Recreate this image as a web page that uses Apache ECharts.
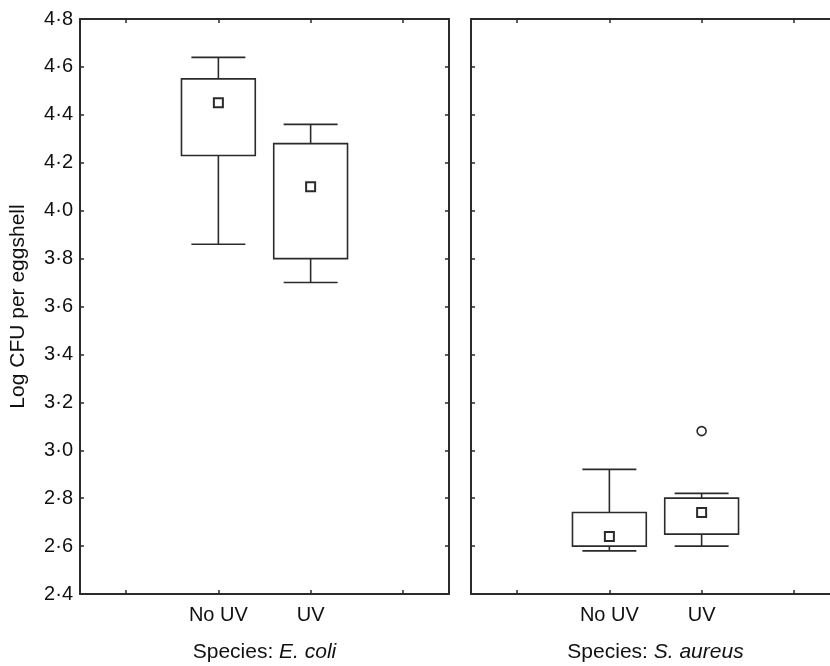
<!DOCTYPE html>
<html>
<head>
<meta charset="utf-8">
<title>Log CFU per eggshell</title>
<script src="https://cdn.jsdelivr.net/npm/echarts@6/dist/echarts.min.js"></script>
<style>
  html, body { margin: 0; padding: 0; background: #fff; }
  #chart { width: 830px; height: 666px; }
</style>
</head>
<body>
<div id="chart"></div>
<script>
// categories (empty slots keep the outer ticks of each panel)
const categories = ['', 'No UV', 'UV', ''];
const groupIndex = [1, 2];

// E. coli
const ecoliWhiskerLow = [3.86, 3.70];
const ecoliBoxLow = [4.23, 3.80];
const ecoliBoxHigh = [4.55, 4.28];
const ecoliWhiskerHigh = [4.64, 4.36];
const ecoliCenter = [4.45, 4.10];

// S. aureus
const aureusWhiskerLow = [2.58, 2.60];
const aureusBoxLow = [2.60, 2.65];
const aureusBoxHigh = [2.74, 2.80];
const aureusWhiskerHigh = [2.92, 2.82];
const aureusCenter = [2.64, 2.74];
const aureusOutlier = [null, 3.08];

const yTicks = { min: 2.4, max: 4.8, step: 0.2 };

const ink = '#2b2b2b';
const font = 'Liberation Sans, Arial, sans-serif';
const fs = 20;
const nameFs = 21;

function boxData(low, q1, q3, high) {
  return groupIndex.map((x, i) => [x, low[i], q1[i], q3[i], high[i]]);
}

function pointData(vals) {
  return groupIndex.map((x, i) => [x, vals[i]]).filter(d => d[1] != null);
}

function renderBox(params, api) {
  const x = api.value(0);
  const lo = api.coord([x, api.value(1)]);
  const q1 = api.coord([x, api.value(2)]);
  const q3 = api.coord([x, api.value(3)]);
  const hi = api.coord([x, api.value(4)]);
  const band = api.size([1, 0])[0];
  const boxW = band * 0.8;
  const capW = band * 0.585;
  const cx = lo[0];
  const style = { stroke: ink, lineWidth: 1.6, fill: null };
  return {
    type: 'group',
    children: [
      { type: 'line', shape: { x1: cx, y1: hi[1], x2: cx, y2: q3[1] }, style },
      { type: 'line', shape: { x1: cx, y1: q1[1], x2: cx, y2: lo[1] }, style },
      { type: 'line', shape: { x1: cx - capW / 2, y1: hi[1], x2: cx + capW / 2, y2: hi[1] }, style },
      { type: 'line', shape: { x1: cx - capW / 2, y1: lo[1], x2: cx + capW / 2, y2: lo[1] }, style },
      { type: 'rect', shape: { x: cx - boxW / 2, y: q3[1], width: boxW, height: q1[1] - q3[1] },
        style: { stroke: ink, lineWidth: 1.6, fill: '#fff' } }
    ]
  };
}

// ticks point into the plot on every side
const tickStyle = { show: true, inside: true, length: 4, lineStyle: { color: ink, width: 1.5 } };

function xAxes(gridIndex, species) {
  const line = { show: true, onZero: false, lineStyle: { color: ink, width: 2 } };
  const tick = Object.assign({ alignWithLabel: true, interval: 0 }, tickStyle);
  return [
    {
      gridIndex, type: 'category', data: categories, position: 'bottom',
      axisLine: line, axisTick: tick,
      axisLabel: { interval: 0, margin: 11, fontSize: fs, color: '#111', fontFamily: font },
      splitLine: { show: false },
      name: '{n|Species: }{i|' + species + '}',
      nameLocation: 'middle', nameGap: 48,
      nameTextStyle: {
        rich: {
          n: { fontSize: nameFs, color: '#111', fontFamily: font },
          i: { fontSize: nameFs, color: '#111', fontFamily: font, fontStyle: 'italic' }
        }
      }
    },
    {
      gridIndex, type: 'category', data: categories, position: 'top',
      axisLine: line, axisTick: tick,
      axisLabel: { show: false },
      splitLine: { show: false }
    }
  ];
}

function yAxes(gridIndex, withLabels) {
  const base = {
    gridIndex, type: 'value', min: yTicks.min, max: yTicks.max, interval: yTicks.step,
    axisLine: { show: true, onZero: false, lineStyle: { color: ink, width: 2 } },
    axisTick: tickStyle,
    splitLine: { show: false }
  };
  const left = Object.assign({}, base, {
    position: 'left',
    axisLabel: withLabels ? {
      margin: 7, fontSize: fs, color: '#111', fontFamily: font,
      formatter: v => v.toFixed(1).replace('.', '\u00b7')
    } : { show: false }
  });
  if (withLabels) {
    Object.assign(left, {
      name: 'Log CFU per eggshell', nameLocation: 'middle', nameGap: 51, nameRotate: 90,
      nameTextStyle: { fontSize: nameFs, color: '#111', fontFamily: font }
    });
  }
  const right = Object.assign({}, base, { position: 'right', axisLabel: { show: false } });
  return [left, right];
}

const chart = echarts.init(document.getElementById('chart'), null, { renderer: 'canvas' });

chart.setOption({
  backgroundColor: '#fff',
  animation: false,
  grid: [
    { left: 80, top: 19, width: 369, height: 575, outerBoundsMode: 'none', containLabel: false },
    { left: 471, top: 19, width: 369, height: 575, outerBoundsMode: 'none', containLabel: false }
  ],
  xAxis: [...xAxes(0, 'E. coli'), ...xAxes(1, 'S. aureus')],
  yAxis: [...yAxes(0, true), ...yAxes(1, false)],
  series: [
    {
      type: 'custom', xAxisIndex: 0, yAxisIndex: 0, renderItem: renderBox,
      data: boxData(ecoliWhiskerLow, ecoliBoxLow, ecoliBoxHigh, ecoliWhiskerHigh)
    },
    {
      type: 'custom', xAxisIndex: 2, yAxisIndex: 2, renderItem: renderBox,
      data: boxData(aureusWhiskerLow, aureusBoxLow, aureusBoxHigh, aureusWhiskerHigh)
    },
    {
      type: 'scatter', xAxisIndex: 0, yAxisIndex: 0, symbol: 'rect', symbolSize: 9,
      itemStyle: { color: '#fff', borderColor: ink, borderWidth: 2, opacity: 1 },
      data: pointData(ecoliCenter), z: 5
    },
    {
      type: 'scatter', xAxisIndex: 2, yAxisIndex: 2, symbol: 'rect', symbolSize: 9,
      itemStyle: { color: '#fff', borderColor: ink, borderWidth: 2, opacity: 1 },
      data: pointData(aureusCenter), z: 5
    },
    {
      type: 'scatter', xAxisIndex: 2, yAxisIndex: 2, symbol: 'circle', symbolSize: 9,
      itemStyle: { color: '#fff', borderColor: ink, borderWidth: 1.6, opacity: 1 },
      data: pointData(aureusOutlier), z: 5
    }
  ]
});
</script>
</body>
</html>
